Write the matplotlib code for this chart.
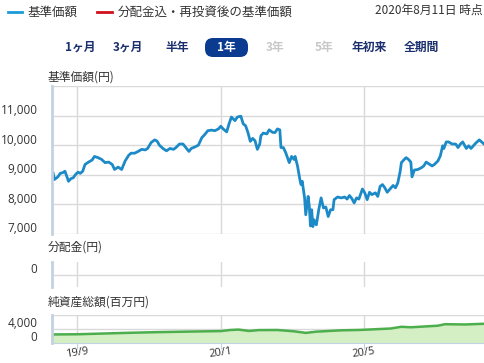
import numpy as np
import matplotlib.pyplot as plt
import matplotlib.transforms as mtrans
from matplotlib.lines import Line2D
from matplotlib.patches import FancyBboxPatch

plt.rcParams['font.family'] = ['Noto Sans CJK JP', 'DejaVu Sans']

# 基準価額 (円)
price_dates = [
    '2019-08-12', '2019-08-13', '2019-08-16', '2019-08-18', '2019-08-20', '2019-08-22', '2019-08-23', '2019-08-25', '2019-08-27', '2019-08-29',
    '2019-08-31', '2019-09-02', '2019-09-04', '2019-09-06', '2019-09-08', '2019-09-11', '2019-09-14', '2019-09-16', '2019-09-19', '2019-09-22',
    '2019-09-25', '2019-09-28', '2019-10-01', '2019-10-03', '2019-10-06', '2019-10-09', '2019-10-12', '2019-10-15', '2019-10-17', '2019-10-20',
    '2019-10-23', '2019-10-26', '2019-10-29', '2019-10-31', '2019-11-03', '2019-11-06', '2019-11-08', '2019-11-10', '2019-11-13', '2019-11-16',
    '2019-11-19', '2019-11-22', '2019-11-24', '2019-11-27', '2019-11-30', '2019-12-03', '2019-12-05', '2019-12-07', '2019-12-10', '2019-12-13',
    '2019-12-16', '2019-12-18', '2019-12-21', '2019-12-24', '2019-12-27', '2019-12-30', '2020-01-01', '2020-01-03', '2020-01-06', '2020-01-08',
    '2020-01-10', '2020-01-13', '2020-01-15', '2020-01-18', '2020-01-20', '2020-01-22', '2020-01-24', '2020-01-26', '2020-01-28', '2020-01-30',
    '2020-02-01', '2020-02-03', '2020-02-04', '2020-02-06', '2020-02-09', '2020-02-11', '2020-02-14', '2020-02-16', '2020-02-18', '2020-02-20',
    '2020-02-21', '2020-02-23', '2020-02-25', '2020-02-28', '2020-03-01', '2020-03-03', '2020-03-04', '2020-03-06', '2020-03-08', '2020-03-09',
    '2020-03-10', '2020-03-12', '2020-03-13', '2020-03-15', '2020-03-16', '2020-03-17', '2020-03-18', '2020-03-19', '2020-03-20', '2020-03-22',
    '2020-03-24', '2020-03-26', '2020-03-28', '2020-03-30', '2020-04-01', '2020-04-03', '2020-04-05', '2020-04-06', '2020-04-09', '2020-04-12',
    '2020-04-15', '2020-04-17', '2020-04-19', '2020-04-21', '2020-04-23', '2020-04-25', '2020-04-27', '2020-04-30', '2020-05-02', '2020-05-04',
    '2020-05-06', '2020-05-08', '2020-05-11', '2020-05-13', '2020-05-15', '2020-05-17', '2020-05-19', '2020-05-21', '2020-05-23', '2020-05-26',
    '2020-05-28', '2020-05-30', '2020-06-01', '2020-06-02', '2020-06-04', '2020-06-06', '2020-06-08', '2020-06-10', '2020-06-11', '2020-06-13',
    '2020-06-16', '2020-06-19', '2020-06-21', '2020-06-23', '2020-06-26', '2020-06-28', '2020-06-30', '2020-07-03', '2020-07-05', '2020-07-07',
    '2020-07-08', '2020-07-10', '2020-07-12', '2020-07-15', '2020-07-18', '2020-07-20', '2020-07-22', '2020-07-24', '2020-07-27', '2020-07-29',
    '2020-07-31', '2020-08-02', '2020-08-04', '2020-08-07', '2020-08-09', '2020-08-11',
]
price_values = [
    9050, 8840, 8930, 9050, 9070, 9120, 9010, 8780, 8870, 8900,
    9010, 9090, 9050, 9120, 9350, 9430, 9500, 9620, 9580, 9520,
    9410, 9430, 9350, 9180, 9260, 9180, 9470, 9660, 9730, 9730,
    9790, 9860, 9840, 9890, 10090, 10180, 10140, 10000, 9890, 9810,
    9890, 9860, 9920, 10040, 10040, 9890, 9790, 9890, 9940, 10000,
    10260, 10340, 10490, 10510, 10490, 10550, 10640, 10550, 10450, 10720,
    10950, 10830, 10950, 10980, 10720, 10660, 10430, 10130, 10230, 10150,
    9860, 10040, 10320, 10410, 10380, 10520, 10430, 10430, 10550, 10520,
    9920, 9920, 9750, 9410, 9620, 9520, 9620, 9300, 8840, 8670,
    8780, 8220, 7650, 8270, 7930, 7270, 7820, 7250, 7480, 7310,
    7820, 8220, 7880, 7910, 7590, 7820, 7820, 8160, 8250, 8220,
    8250, 8180, 8300, 8200, 8050, 8220, 8180, 8520, 8390, 8160,
    8410, 8330, 8390, 8270, 8610, 8670, 8560, 8410, 8500, 8640,
    8560, 8730, 9120, 9410, 9500, 9580, 9520, 9430, 8930, 9160,
    9180, 9240, 9300, 9430, 9350, 9300, 9350, 9470, 9640, 9980,
    9890, 10110, 10110, 10040, 10040, 9920, 10040, 10110, 9890, 9980,
    9890, 9980, 10070, 10180, 10110, 10040,
]

# 純資産総額 (百万円)
asset_dates = [
    '2019-08-11', '2019-09-01', '2019-10-13', '2019-11-07', '2019-12-14', '2020-01-01',
    '2020-01-09', '2020-01-16', '2020-01-25', '2020-02-02', '2020-02-18', '2020-03-03',
    '2020-03-13', '2020-03-22', '2020-04-12', '2020-04-29', '2020-05-24', '2020-06-02',
    '2020-06-10', '2020-07-03', '2020-07-09', '2020-07-26', '2020-08-11',
]
asset_values = [
    2300, 2350, 2750, 2950, 3170, 3260,
    3570, 3690, 3300, 3540, 3570, 3200,
    2750, 3100, 3480, 3600, 4000, 4490,
    4350, 4800, 5230, 5150, 5350,
]

x_start, x_end = '2019-08-11', '2020-08-11'
x_ticks = ['2019-09-01', '2020-01-01', '2020-05-01']
x_labels = ['19/9', '20/1', '20/5']
price_ticks = [7000, 8000, 9000, 10000, 11000, 12000]
price_labels = ['7,000', '8,000', '9,000', '10,000', '11,000', '']
asset_ticks = [0, 4000, 8000]
asset_labels = ['0', '4,000', '']

buttons = ['1ヶ月', '3ヶ月', '半年', '1年', '3年', '5年', '年初来', '全期間']
button_x = [80, 128, 177, 226, 275, 324, 369, 421]

W, H = 485, 363
fig = plt.figure(figsize=(W / 100, H / 100), dpi=100)


def box(l, t, r, b):
    return [l / W, 1 - b / H, (r - l) / W, (b - t) / H]


def fx(x):
    return x / W


def fy(y):
    return 1 - y / H


TXT = '#333333'
GRID = '#d9d9d9'
AXIS = '#c3d1e2'
NUMFONT = ['Open Sans', 'DejaVu Sans']

pd_ = np.array(price_dates, dtype='datetime64[D]')
ad_ = np.array(asset_dates, dtype='datetime64[D]')
xt = np.array(x_ticks, dtype='datetime64[D]')
xlim = (np.datetime64(x_start), np.datetime64(x_end))

ax1 = fig.add_axes(box(52, 86, 484, 234))
ax2 = fig.add_axes(box(52, 262, 484, 287))
ax3 = fig.add_axes(box(52, 314.5, 484, 342.5))

for ax in (ax1, ax2, ax3):
    ax.set_xlim(*xlim)
    ax.set_xticks(xt)
    ax.grid(True, color=GRID, lw=1)
    ax.set_axisbelow(True)
    for s in ('top', 'right', 'bottom'):
        ax.spines[s].set_visible(False)
    ax.spines['left'].set_color(AXIS)
    ax.spines['left'].set_linewidth(2)
    ax.tick_params(axis='y', length=0, pad=10.5, labelsize=8.5, labelcolor=TXT)
    ax.tick_params(axis='x', length=0, labelbottom=False)

ax1.plot(pd_, price_values, color='#1d8ac8', lw=2)
ax1.set_ylim(7000, 12000)
ax1.set_yticks(price_ticks)
ax1.set_yticklabels(price_labels, fontfamily=NUMFONT)

ax2.set_ylim(-1, 1)
ax2.set_yticks([0])
ax2.set_yticklabels(['0'], fontfamily=NUMFONT)

ax3.fill_between(ad_, asset_values, 0, color='#d3efc3', lw=0)
ax3.plot(ad_, asset_values, color='#4cae4c', lw=1.8)
ax3.set_ylim(0, 8000)
ax3.set_yticks(asset_ticks)
ax3.set_yticklabels(asset_labels, fontfamily=NUMFONT)
ax3.spines['bottom'].set_visible(True)
ax3.spines['bottom'].set_color(AXIS)
ax3.tick_params(axis='x', length=4, color=AXIS, labelbottom=True,
                labelsize=8, labelcolor=TXT, pad=-1.5)
ax3.set_xticklabels(x_labels, rotation=8, fontfamily=NUMFONT)

shift = mtrans.ScaledTranslation(0, 0.065, fig.dpi_scale_trans)
for ax in (ax1, ax2, ax3):
    for lab in ax.get_yticklabels():
        lab.set_transform(lab.get_transform() + shift)

# panel titles
fig.text(fx(48), fy(77), '基準価額(円)', fontsize=8.5, color=TXT, va='center')
fig.text(fx(48), fy(247), '分配金(円)', fontsize=8.5, color=TXT, va='center')
fig.text(fx(48), fy(302), '純資産総額(百万円)', fontsize=8.5, color=TXT, va='center')

# legend
fig.add_artist(Line2D([fx(8), fx(22)], [fy(12), fy(12)], color='#1a9ad6', lw=2))
fig.text(fx(28), fy(12), '基準価額', fontsize=9, color=TXT, va='center')
fig.add_artist(Line2D([fx(97), fx(112)], [fy(12), fy(12)], color='#d0101b', lw=2))
fig.text(fx(118), fy(12), '分配金込・再投資後の基準価額', fontsize=9, color=TXT, va='center')
fig.text(fx(483), fy(10), '2020年8月11日 時点', fontsize=8.5, color=TXT, va='center', ha='right')

# period buttons
fig.patches.append(FancyBboxPatch((2.05, (H - 57) / 100), 0.43, 0.19,
                                  boxstyle='round,pad=0,rounding_size=0.08',
                                  transform=fig.dpi_scale_trans, facecolor='#0b3a91',
                                  edgecolor='none', figure=fig))
for name, bx in zip(buttons, button_x):
    if name == '1年':
        c = 'white'
    elif name in ('3年', '5年'):
        c = '#c8c8c8'
    else:
        c = '#1b2f6e'
    fig.text(fx(bx), fy(47), name, fontsize=8.5, color=c, fontweight='bold', ha='center', va='center')

fig.savefig('out.png', dpi=100)
